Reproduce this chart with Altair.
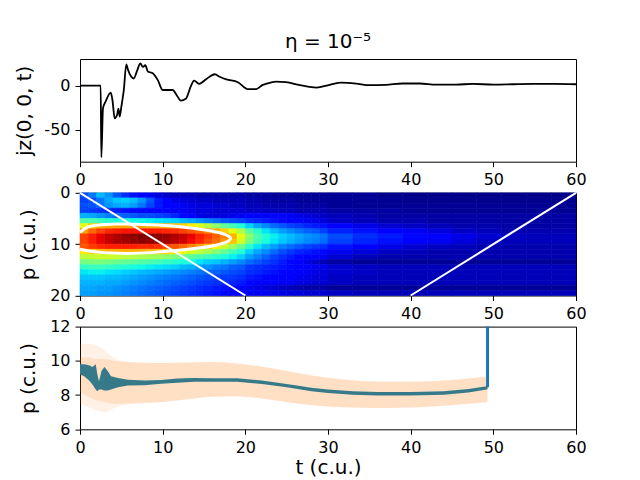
import altair as alt
import pandas as pd

FONT = "DejaVu Sans"
TITLE = "η = 10⁻⁵"

# ---------------- top panel: j_z(0,0,t) ----------------
jz_t = [0, 2.5, 2.58, 2.78, 3.1, 3.72, 3.92, 4.2, 4.49, 4.65, 4.8, 5.0, 5.3, 5.6, 5.8,
        6.5, 6.9, 7.3, 7.6, 7.9, 8.2, 8.8, 9.4, 10.0, 11.2, 11.8, 12.2, 12.8, 13.4, 13.8,
        14.4, 15.3, 16.3, 16.9, 17.7, 19.1, 20.3, 21.3, 22.1, 22.5, 23.7, 24.9, 26.6,
        28.6, 30.2, 31.6, 33.4, 35.0, 37.0, 39.0, 41.1, 43.1, 45.5, 47.5, 50.0, 52.4,
        54.8, 57.3, 60.0]
jz_v = [0, 0, -81, -25.6, -18, -8, -16, -37, -33, -26, -35, -24, -5, 24, 18,
        8, 16.5, 25, 21, 23, 16, 14, 6.4, -5, -5, -12.4, -17, -15, -1, 5.6,
        2, 7.5, 12.8, 10, 7, 3.8, -4, -4, 0.8, 2, 4.5, 3.8, 0.5,
        -2.3, 0.8, 3.4, 2.3, 0.4, 0.8, 2.3, 2.3, 1.1, 1.1, 1.9, 1.1, 1.5,
        1.9, 1.9, 1.5]

# ---------------- middle panel: heat map (values in % of max) ----------------
hm_t_edges = [0, 1, 2, 3, 4, 5, 6, 7, 8, 9, 10, 11, 12, 13, 14, 15, 16, 17, 18, 19, 20,
              21, 22, 23, 24, 25, 26, 27, 28, 29, 30,
              33, 36, 39, 42, 45, 48, 51, 54, 57, 60]
hm_p_edges = [0, 1, 2, 3, 4, 5, 6, 7, 8, 9, 10, 11, 12, 13, 14, 15, 16, 17, 18, 19, 20]
hm_rows = [
    [20, 24, 31, 27, 21, 17, 14, 12, 10, 8, 6, 5, 5, 5, 4, 4, 4, 4, 4, 4, 3, 3, 3, 2, 2, 2, 2, 2, 2, 2, 2, 2, 1, 1, 1, 1, 1, 1, 1, 1],
    [19, 20, 24, 29, 32, 33, 31, 27, 21, 15, 11, 9, 8, 7, 6, 6, 5, 5, 5, 5, 4, 4, 3, 3, 3, 3, 2, 2, 2, 2, 2, 2, 2, 1, 1, 1, 1, 1, 1, 1],
    [20, 21, 23, 27, 29, 30, 28, 24, 19, 15, 12, 11, 10, 9, 8, 8, 7, 7, 6, 6, 5, 5, 4, 4, 4, 4, 3, 3, 3, 3, 2, 2, 2, 2, 2, 2, 2, 2, 2, 2],
    [19, 18, 17, 16, 15, 14, 13, 13, 12, 12, 11, 10, 10, 9, 8, 8, 7, 7, 7, 7, 6, 6, 6, 5, 5, 5, 4, 4, 4, 4, 3, 3, 3, 2, 2, 2, 2, 2, 2, 2],
    [30, 29, 27, 25, 23, 22, 21, 20, 20, 19, 18, 16, 13, 11, 9, 8, 8, 8, 9, 10, 11, 12, 12, 12, 11, 10, 9, 8, 7, 6, 5, 4, 3, 3, 3, 3, 3, 3, 3, 3],
    [45, 44, 42, 40, 39, 38, 37, 37, 36, 35, 34, 33, 31, 29, 27, 25, 23, 21, 20, 19, 17, 16, 15, 14, 13, 12, 11, 10, 9, 8, 6, 5, 4, 4, 3, 3, 3, 3, 3, 3],
    [63, 69, 72, 73, 74, 74, 74, 74, 73, 73, 72, 71, 69, 66, 62, 57, 52, 47, 43, 39, 33, 29, 26, 23, 21, 19, 18, 16, 15, 14, 11, 9, 7, 6, 5, 4, 4, 3, 3, 3],
    [74, 80, 84, 87, 88, 89, 89, 89, 88, 88, 87, 86, 84, 82, 80, 77, 73, 69, 63, 56, 46, 40, 35, 31, 28, 26, 24, 22, 21, 19, 16, 14, 12, 10, 8, 6, 5, 4, 4, 4],
    [84, 88, 91, 94, 96, 98, 99, 100, 100, 99, 98, 96, 94, 91, 88, 85, 81, 77, 72, 63, 52, 44, 39, 36, 33, 31, 29, 27, 26, 24, 20, 17, 15, 13, 11, 9, 7, 6, 5, 5],
    [84, 88, 91, 94, 96, 97, 98, 99, 98, 98, 97, 95, 93, 90, 87, 83, 79, 75, 70, 61, 50, 43, 38, 35, 32, 30, 28, 26, 25, 23, 19, 16, 14, 12, 10, 8, 6, 5, 5, 5],
    [82, 85, 87, 88, 88, 88, 88, 87, 87, 86, 84, 82, 80, 77, 74, 70, 65, 60, 54, 48, 40, 35, 31, 28, 25, 23, 21, 19, 18, 17, 14, 11, 9, 7, 6, 5, 4, 4, 4, 4],
    [66, 69, 71, 72, 72, 72, 72, 72, 71, 71, 69, 67, 64, 61, 58, 55, 51, 47, 43, 39, 33, 29, 26, 23, 20, 18, 16, 15, 14, 13, 10, 8, 6, 5, 4, 4, 4, 4, 4, 4],
    [58, 59, 60, 60, 59, 58, 57, 56, 55, 54, 52, 50, 48, 46, 44, 42, 40, 38, 36, 33, 28, 25, 22, 19, 17, 15, 13, 12, 11, 10, 7, 5, 4, 4, 4, 4, 4, 4, 4, 4],
    [49, 50, 50, 49, 48, 47, 46, 45, 44, 43, 41, 40, 38, 37, 35, 33, 32, 30, 28, 26, 23, 21, 19, 17, 15, 13, 11, 9, 7, 5, 3, 2, 2, 2, 2, 2, 2, 2, 2, 2],
    [41, 42, 42, 41, 40, 39, 38, 37, 36, 35, 34, 33, 31, 30, 28, 27, 25, 24, 22, 21, 18, 17, 16, 15, 14, 13, 12, 11, 10, 9, 7, 6, 5, 5, 5, 5, 5, 5, 5, 5],
    [35, 36, 36, 35, 34, 33, 32, 31, 30, 29, 28, 27, 26, 25, 24, 23, 22, 21, 20, 19, 17, 16, 15, 14, 13, 12, 11, 10, 9, 8, 7, 6, 5, 5, 5, 5, 5, 5, 5, 5],
    [32, 32, 32, 31, 31, 30, 29, 28, 27, 26, 25, 24, 23, 22, 21, 20, 19, 18, 18, 17, 15, 14, 13, 12, 12, 11, 10, 9, 8, 8, 6, 5, 5, 5, 5, 5, 5, 5, 5, 5],
    [30, 30, 30, 29, 29, 28, 27, 26, 25, 24, 23, 22, 21, 20, 19, 18, 17, 17, 16, 15, 13, 12, 12, 11, 10, 10, 9, 8, 7, 7, 6, 5, 5, 5, 5, 5, 5, 5, 5, 5],
    [29, 29, 28, 28, 27, 26, 25, 24, 23, 22, 21, 20, 19, 18, 17, 16, 15, 14, 13, 12, 10, 9, 8, 7, 6, 5, 4, 3, 3, 3, 2, 2, 2, 2, 2, 2, 2, 2, 2, 2],
    [28, 28, 27, 27, 26, 25, 24, 23, 22, 21, 20, 19, 18, 17, 16, 15, 14, 13, 12, 12, 11, 10, 10, 9, 9, 8, 8, 7, 7, 7, 6, 5, 5, 5, 5, 5, 5, 5, 5, 5],
]

contour_t = [0.0, 0.9, 2.1, 4.5, 7.7, 10.9, 13.7, 16.1, 17.5, 18.2, 17.9, 16.5, 14.1, 11.3, 8.5, 5.7, 2.9, 1.3, 0.0]
contour_p = [7.7, 6.7, 6.3, 6.1, 6.15, 6.4, 6.9, 7.5, 8.1, 8.8, 9.45, 10.2, 10.8, 11.3, 11.65, 11.8, 11.65, 11.4, 11.0]

cone_id = ["a", "a", "b", "b"]
cone_t = [0, 20, 40, 60]
cone_p = [0, 20, 20, 0]

# ---------------- bottom panel ----------------
line_t = [0, 0.5, 1.1, 1.5, 1.9, 2.1, 2.3, 2.6, 2.95, 3.35, 3.75, 4.6, 5.8, 7.8, 9.8, 11.8, 13.8,
          16, 19, 22, 25, 28, 30, 33, 36, 40, 44, 47, 49.2, 49.3]
line_hi = [9.8, 9.8, 9.74, 9.64, 9.8, 9.2, 8.8, 9.4, 9.64, 9.4, 9.1, 9.0, 8.9, 8.85, 8.88, 8.97, 9.0,
           8.98, 8.98, 8.85, 8.65, 8.43, 8.32, 8.22, 8.18, 8.18, 8.22, 8.35, 8.52, 8.55]
line_lo = [9.2, 9.1, 8.85, 8.62, 8.33, 8.23, 8.33, 8.33, 8.27, 8.27, 8.33, 8.46, 8.56, 8.58, 8.66, 8.72, 8.78,
           8.78, 8.78, 8.65, 8.45, 8.23, 8.12, 8.02, 7.98, 7.98, 8.02, 8.15, 8.32, 8.35]
spike_t = [49.3, 49.3]
spike_p = [8.45, 12.6]

band_t = [0, 1, 2, 3, 4, 5, 7, 10, 13, 16, 19, 22, 25, 28, 31, 34, 37, 40, 43, 46, 49.3]
band_hi = [11.0, 11.0, 10.9, 10.6, 10.2, 10.0, 9.9, 9.87, 9.9, 9.93, 9.85, 9.65, 9.4, 9.15, 8.95, 8.82, 8.78, 8.78, 8.82, 8.92, 9.08]
band_lo = [7.5, 7.3, 7.1, 7.0, 7.2, 7.4, 7.5, 7.6, 7.75, 7.9, 7.92, 7.8, 7.6, 7.42, 7.3, 7.26, 7.25, 7.28, 7.35, 7.45, 7.6]
core_hi = [10.2, 10.2, 10.1, 10.1, 10.0, 9.95, 9.9, 9.87, 9.9, 9.93, 9.85, 9.65, 9.4, 9.15, 8.95, 8.82, 8.78, 8.78, 8.82, 8.92, 9.08]
core_lo = [8.2, 7.9, 7.7, 7.6, 7.5, 7.5, 7.55, 7.6, 7.75, 7.9, 7.92, 7.8, 7.6, 7.42, 7.3, 7.26, 7.25, 7.28, 7.35, 7.45, 7.6]

x_ticks = [0, 10, 20, 30, 40, 50, 60]

# ---------------- build ----------------
W, H = 496, 102.7

x_scale = alt.Scale(domain=[0, 60], nice=False, zero=False)


def x_axis(title=None):
    kw = dict(values=x_ticks, grid=False, labelFlush=False, domain=False,
              tickSize=5, labelPadding=5)
    if title is None:
        return alt.Axis(title=None, **kw)
    return alt.Axis(title=title, titleY=44.5, titleBaseline="alphabetic", **kw)


def y_axis(vals, title, tx):
    return alt.Axis(values=vals, title=title, grid=False, domain=False, tickSize=5,
                    labelPadding=5, labelExpr="datum.value + ''", titleX=tx,
                    titleBaseline="alphabetic", titleAngle=270)


# top
top_df = pd.DataFrame({"t": jz_t, "v": jz_v})
jz_scale = alt.Scale(domain=[-86, 30], nice=False, zero=False)
jz_axis = y_axis([-50, 0], "jz(0, 0, t)", -50)
top_line = alt.Chart(top_df).mark_line(color="black", strokeWidth=1.8, interpolate="monotone").encode(
    x=alt.X("t:Q", scale=x_scale, axis=x_axis()),
    y=alt.Y("v:Q", scale=jz_scale, axis=jz_axis),
)
title_df = pd.DataFrame({"s": [TITLE]})
top_title = alt.Chart(title_df).mark_text(
    fontSize=20, font=FONT, baseline="alphabetic", align="center", color="black"
).encode(x=alt.value(W / 2), y=alt.value(-11), text="s:N")
top = alt.layer(top_line, top_title).properties(width=W, height=H)

# middle
recs = []
for i, row in enumerate(hm_rows):
    for j, v in enumerate(row):
        recs.append(dict(t0=hm_t_edges[j], t1=hm_t_edges[j + 1],
                         p0=hm_p_edges[i], p1=hm_p_edges[i + 1], v=v))
hm_df = pd.DataFrame(recs)

jet_dom = [0, 11, 12.5, 34, 35, 37.5, 64, 65, 66, 89, 91, 100]
jet_rng = ["#000080", "#0000ff", "#0000ff", "#00dbff", "#00e6f7", "#15ffe2",
           "#eeff08", "#f7f500", "#ffec00", "#ff1300", "#e80000", "#800000"]
jet = alt.Scale(domain=jet_dom, range=jet_rng, interpolate="rgb", clamp=True)

p_scale = alt.Scale(domain=[0, 20], nice=False, zero=False, reverse=True)
p_axis = y_axis([0, 10, 20], "p (c.u.)", -45.5)

heat = alt.Chart(hm_df).mark_rect(strokeWidth=0.6).encode(
    x=alt.X("t0:Q", scale=x_scale, axis=x_axis()),
    x2="t1:Q",
    y=alt.Y("p0:Q", scale=p_scale, axis=p_axis),
    y2="p1:Q",
    color=alt.Color("v:Q", scale=jet, legend=None),
    stroke=alt.Stroke("v:Q", scale=jet, legend=None),
)

cont_df = pd.DataFrame({"t": contour_t, "p": contour_p, "k": list(range(len(contour_t)))})
cont = alt.Chart(cont_df).mark_line(color="white", strokeWidth=3, interpolate="catmull-rom").encode(
    x=alt.X("t:Q", scale=x_scale, axis=x_axis()),
    y=alt.Y("p:Q", scale=p_scale, axis=p_axis),
    order="k:Q",
)

cone_df = pd.DataFrame({"id": cone_id, "t": cone_t, "p": cone_p})
cones = alt.Chart(cone_df).mark_line(color="white", strokeWidth=2).encode(
    x=alt.X("t:Q", scale=x_scale, axis=x_axis()),
    y=alt.Y("p:Q", scale=p_scale, axis=p_axis),
    detail="id:N",
)

mid = alt.layer(heat, cont, cones).properties(width=W, height=H)

# bottom
b_scale = alt.Scale(domain=[6, 12], nice=False, zero=False)
b_axis = y_axis([6, 8, 10, 12], "p (c.u.)", -45.5)
bx_axis = x_axis("t (c.u.)")

band_df = pd.DataFrame({"t": band_t, "lo": band_lo, "hi": band_hi, "clo": core_lo, "chi": core_hi})
outer = alt.Chart(band_df).mark_area(color="#ff7f0e", opacity=0.11, interpolate="monotone").encode(
    x=alt.X("t:Q", scale=x_scale, axis=bx_axis),
    y=alt.Y("lo:Q", scale=b_scale, axis=b_axis),
    y2="hi:Q",
)
core = alt.Chart(band_df).mark_area(color="#ff7f0e", opacity=0.15, interpolate="monotone").encode(
    x=alt.X("t:Q", scale=x_scale, axis=bx_axis),
    y=alt.Y("clo:Q", scale=b_scale, axis=b_axis),
    y2="chi:Q",
)

spike_df = pd.DataFrame({"t": spike_t, "lo": spike_p})
spike = alt.Chart(spike_df).mark_line(color="#1f77b4", strokeWidth=3, clip=True).encode(
    x=alt.X("t:Q", scale=x_scale, axis=bx_axis),
    y=alt.Y("lo:Q", scale=b_scale, axis=b_axis),
)

line_df = pd.DataFrame({"t": line_t, "lo": line_lo, "hi": line_hi})
teal = alt.Chart(line_df).mark_area(color="#367a8a", opacity=1).encode(
    x=alt.X("t:Q", scale=x_scale, axis=bx_axis),
    y=alt.Y("lo:Q", scale=b_scale, axis=b_axis),
    y2="hi:Q",
)

bot = alt.layer(outer, core, spike, teal).properties(width=W, height=H)

chart = alt.vconcat(top, mid, bot, spacing=30.8, bounds="flush").properties(
    padding={"left": 5, "top": 23, "right": 5, "bottom": 2}
).configure(font=FONT).configure_view(
    stroke="black", strokeWidth=1
).configure_axis(
    labelFont=FONT, labelFontSize=16, labelColor="black",
    titleFont=FONT, titleFontSize=20, titleFontWeight="normal", titleColor="black",
    tickColor="black", tickWidth=1,
)

chart.save("out.html", embed_options={"renderer": "svg", "actions": False})
